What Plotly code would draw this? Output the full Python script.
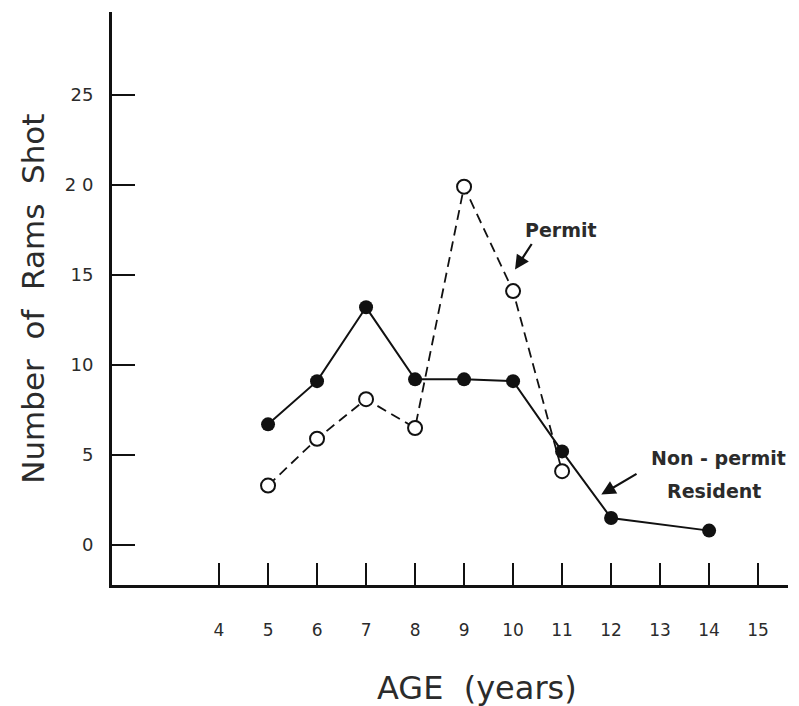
import plotly.graph_objects as go

# Data
nonpermit_age = [5, 6, 7, 8, 9, 10, 11, 12, 14]
nonpermit_rams = [6.7, 9.1, 13.2, 9.2, 9.2, 9.1, 5.2, 1.5, 0.8]

permit_age = [5, 6, 7, 8, 9, 10, 11]
permit_rams = [3.3, 5.9, 8.1, 6.5, 19.9, 14.1, 4.1]

x_ticks = [4, 5, 6, 7, 8, 9, 10, 11, 12, 13, 14, 15]
y_ticks = [0, 5, 10, 15, 20, 25]
y_tick_text = ["0", "5", "10", "15", "2 0", "25"]

INK = "#111111"
TXT = "#2b2b2b"
FONT = "DejaVu Sans"

fig = go.Figure()

fig.add_trace(go.Scatter(
    x=permit_age, y=permit_rams, mode="lines+markers", name="Permit",
    line=dict(color=INK, width=1.8, dash="10px,6px"),
    marker=dict(symbol="circle", size=14, color="white",
                line=dict(color=INK, width=2)),
))
fig.add_trace(go.Scatter(
    x=nonpermit_age, y=nonpermit_rams, mode="lines+markers", name="Non-permit Resident",
    line=dict(color=INK, width=2),
    marker=dict(symbol="circle", size=14, color=INK),
))

fig.update_layout(
    width=799, height=706,
    margin=dict(l=112, r=11, t=12, b=121),
    paper_bgcolor="white", plot_bgcolor="white",
    showlegend=False,
    font=dict(family=FONT, color=TXT),
    xaxis=dict(
        range=[1.816, 15.61], showgrid=False, zeroline=False,
        showline=True, linecolor=INK, linewidth=3,
        ticks="inside", ticklen=22, tickwidth=1.6, tickcolor=INK,
        tickvals=x_ticks, ticktext=[str(v) for v in x_ticks],
        tickfont=dict(size=17, color=TXT, family=FONT),
        ticklabelstandoff=28,
    ),
    yaxis=dict(
        range=[-2.22, 29.6], showgrid=False, zeroline=False,
        showline=True, linecolor=INK, linewidth=3,
        ticks="inside", ticklen=23, tickwidth=1.6, tickcolor=INK,
        tickvals=y_ticks, ticktext=y_tick_text,
        tickfont=dict(size=18, color=TXT, family=FONT),
        ticklabelstandoff=12,
    ),
)

# Axis titles
fig.add_annotation(
    text="Number  of  Rams  Shot", xref="paper", yref="paper",
    x=-0.118, y=0.5, xanchor="center", yanchor="middle", textangle=-90,
    showarrow=False, font=dict(size=31, color=TXT, family=FONT),
)
fig.add_annotation(
    text="AGE  (years)", xref="paper", yref="paper",
    x=0.54, y=-0.179, xanchor="center", yanchor="middle",
    showarrow=False, font=dict(size=32, color=TXT, family=FONT),
)

# Series labels with arrows
fig.add_annotation(
    text="<b>Permit</b>", x=10.97, y=17.5, xref="x", yref="y",
    xanchor="center", yanchor="middle", showarrow=False,
    font=dict(size=19, color=TXT, family=FONT),
)
fig.add_annotation(
    x=10.04, y=15.3, ax=10.4, ay=16.8, xref="x", yref="y", axref="x", ayref="y",
    text="", showarrow=True, arrowhead=2, arrowsize=1.3, arrowwidth=2.2, arrowcolor=INK,
)
fig.add_annotation(
    text="<b>Non - permit</b>", x=14.2, y=4.85, xref="x", yref="y",
    xanchor="center", yanchor="middle", showarrow=False,
    font=dict(size=19, color=TXT, family=FONT),
)
fig.add_annotation(
    text="<b>Resident</b>", x=14.1, y=3.0, xref="x", yref="y",
    xanchor="center", yanchor="middle", showarrow=False,
    font=dict(size=19, color=TXT, family=FONT),
)
fig.add_annotation(
    x=11.8, y=2.8, ax=12.55, ay=4.0, xref="x", yref="y", axref="x", ayref="y",
    text="", showarrow=True, arrowhead=2, arrowsize=1.3, arrowwidth=2.2, arrowcolor=INK,
)

fig.write_html("out.html")
